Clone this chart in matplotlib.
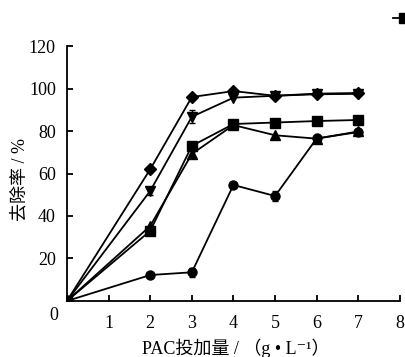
import matplotlib.pyplot as plt
import numpy as np

plt.rcParams['font.family'] = ['Liberation Serif', 'Noto Sans CJK SC', 'DejaVu Sans']

dose = [0, 2, 3, 4, 5, 6, 7]

# removal rate (%) per series
s_square = [0, 33, 73, 83.3, 84, 84.7, 85.2]
s_triangle = [0, 35.3, 69.2, 82.8, 78, 76.4, 79.8]
s_diamond = [0, 62, 96, 98.8, 96.6, 97.6, 97.9]
s_invtri = [0, 51.8, 86.7, 95.7, 96.6, 97.3, 97.5]
s_circle = [0, 12.2, 13.5, 54.6, 49.4, 76.5, 79.5]

err_invtri = [0, 2, 3, 0, 0, 0, 0]
err_circle = [0, 0, 2, 0, 2.5, 0, 0]

fig = plt.figure(figsize=(4.06, 3.57), dpi=100)
ax = fig.add_axes([0.165, 0.157, 0.82, 0.714])

kw = dict(color='black', linewidth=1.3, markersize=6.5, capsize=2.5, elinewidth=1)
ax.errorbar(dose, s_circle, yerr=err_circle, marker='o', **kw)
ax.errorbar(dose, s_triangle, marker='^', **kw)
ax.errorbar(dose, s_invtri, yerr=err_invtri, marker='v', **kw)
ax.errorbar(dose, s_diamond, marker='D', markersize=6, color='black', linewidth=1.3)
h_sq = ax.errorbar(dose, s_square, marker='s', **kw)

ax.set_xlim(0, 8)
ax.set_ylim(0, 120)
ax.set_xticks(np.arange(0, 9, 1))
ax.set_yticks(np.arange(20, 121, 20))
ax.set_xticklabels(['', '1', '2', '3', '4', '5', '6', '7', '8'])
ax.text(-0.22, -3, '0', ha='right', va='top', fontsize=13)

for s in ['top', 'right']:
    ax.spines[s].set_visible(False)
for s in ['left', 'bottom']:
    ax.spines[s].set_linewidth(1.3)
ax.tick_params(direction='in', length=4, width=1.3, labelsize=13)
ax.tick_params(axis='x', pad=10)
ax.tick_params(axis='y', pad=8)

ax.set_xlabel('PAC投加量 / （g • L⁻¹）', fontsize=13)
ax.set_ylabel('去除率 / %', fontsize=13)
ax.xaxis.set_label_coords(0.508, -0.184)
ax.yaxis.set_label_coords(-0.14, 0.475)
ax.xaxis.label.set_va('center')
ax.yaxis.label.set_va('center')

fig.legend([h_sq], ['1'], loc='upper left', bbox_to_anchor=(0.93, 1.01),
           frameon=False, handlelength=1.4, fontsize=12)

fig.savefig('out.png', dpi=100)
